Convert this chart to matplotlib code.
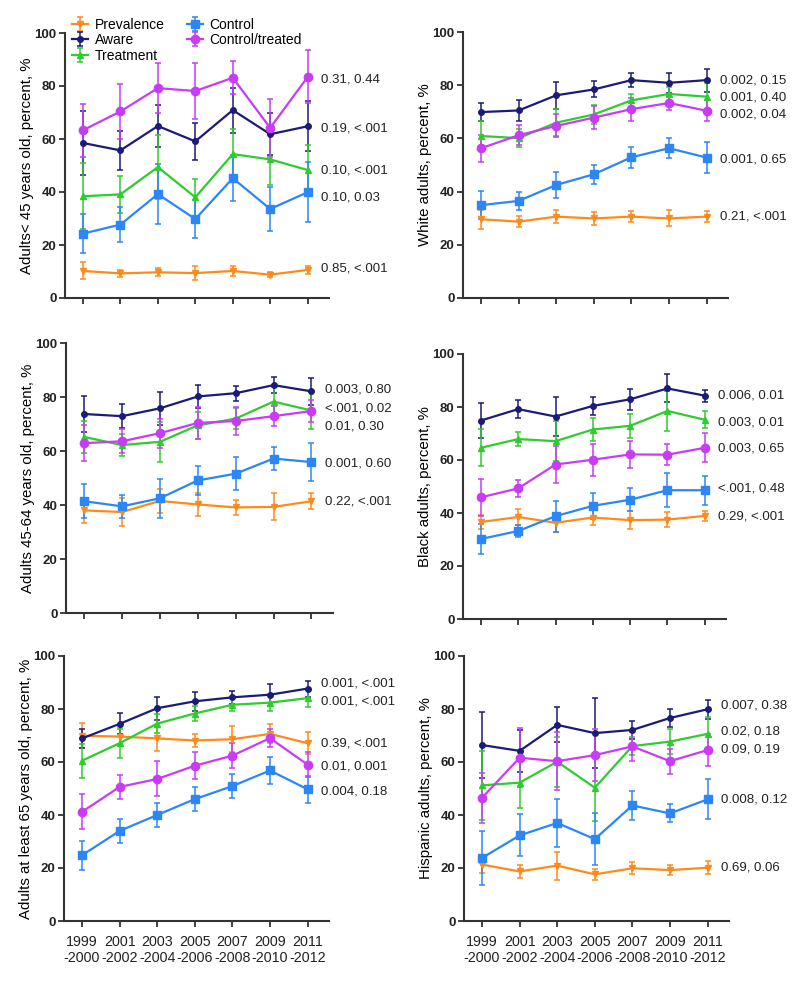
import numpy as np
import matplotlib
matplotlib.use("Agg")
import matplotlib.pyplot as plt

plt.rcParams['font.family'] = ['Liberation Sans', 'DejaVu Sans']

# ── data ───────────────────────────────────────────────────────────
periods = ["1999\n-2000", "2001\n-2002", "2003\n-2004", "2005\n-2006",
           "2007\n-2008", "2009\n-2010", "2011\n-2012"]
series = ["Prevalence", "Aware", "Treatment", "Control", "Control/treated"]

under45 = {
    "Prevalence":      [10.2, 9.3, 9.7, 9.4, 10.2, 8.8, 10.6],
    "Aware":           [58.5, 55.7, 64.9, 59.1, 70.9, 61.8, 64.8],
    "Treatment":       [38.4, 39.1, 49.4, 38.0, 54.3, 52.3, 48.3],
    "Control":         [24.3, 27.7, 39.2, 29.8, 45.2, 33.6, 39.9],
    "Control/treated": [63.3, 70.4, 79.2, 78.1, 83.1, 64.2, 83.4],
}
under45_err = {
    "Prevalence":      [3.2, 1.3, 1.5, 2.6, 1.8, 1.0, 1.6],
    "Aware":           [12.0, 7.5, 8.0, 7.0, 8.5, 8.0, 9.5],
    "Treatment":       [12.5, 7.0, 12.0, 7.0, 9.6, 9.5, 9.5],
    "Control":         [7.5, 6.7, 11.2, 7.0, 8.6, 8.3, 11.4],
    "Control/treated": [10.0, 10.5, 9.5, 10.4, 6.3, 11.0, 10.0],
}
under45_p = ["0.85, <.001", "0.19, <.001", "0.10, <.001", "0.10, 0.03", "0.31, 0.44"]
under45_py = [11.1, 64.0, 48.0, 38.0, 82.3]

white = {
    "Prevalence":      [29.6, 28.7, 30.6, 29.9, 30.6, 29.9, 30.6],
    "Aware":           [69.9, 70.5, 76.2, 78.4, 81.9, 80.9, 81.9],
    "Treatment":       [60.9, 60.1, 65.9, 69.0, 74.3, 76.7, 75.7],
    "Control":         [34.9, 36.5, 42.5, 46.5, 52.9, 56.3, 52.8],
    "Control/treated": [56.3, 61.2, 64.7, 67.8, 71.0, 73.3, 70.4],
}
white_err = {
    "Prevalence":      [3.5, 2.0, 2.5, 2.5, 2.2, 3.0, 2.2],
    "Aware":           [3.5, 4.0, 5.0, 3.0, 2.5, 3.8, 4.3],
    "Treatment":       [5.5, 3.5, 5.0, 3.5, 2.5, 2.5, 5.0],
    "Control":         [5.2, 3.4, 4.9, 3.5, 3.9, 3.7, 5.7],
    "Control/treated": [5.0, 3.8, 4.3, 4.3, 4.3, 2.5, 4.0],
}
white_p = ["0.21, <.001", "0.002, 0.15", "0.001, 0.40", "0.001, 0.65", "0.002, 0.04"]
white_py = [30.5, 81.9, 75.4, 52.0, 69.0]

mid = {
    "Prevalence":      [38.0, 37.4, 41.5, 40.2, 39.1, 39.3, 41.4],
    "Aware":           [73.7, 72.9, 75.8, 80.2, 81.4, 84.4, 82.1],
    "Treatment":       [65.2, 62.2, 63.4, 69.5, 72.0, 78.3, 75.0],
    "Control":         [41.4, 39.5, 42.5, 49.1, 51.6, 57.2, 55.9],
    "Control/treated": [62.9, 63.6, 66.6, 70.4, 71.1, 72.9, 74.8],
}
mid_err = {
    "Prevalence":      [4.6, 5.2, 4.3, 4.3, 2.7, 5.0, 3.0],
    "Aware":           [6.7, 4.5, 6.2, 4.4, 2.8, 3.0, 5.0],
    "Treatment":       [6.0, 4.0, 7.3, 5.0, 4.0, 5.5, 6.8],
    "Control":         [6.2, 4.2, 7.3, 5.3, 6.0, 4.1, 6.9],
    "Control/treated": [6.6, 4.4, 5.4, 6.0, 5.2, 3.7, 4.1],
}
mid_p = ["0.22, <.001", "0.003, 0.80", "<.001, 0.02", "0.001, 0.60", "0.01, 0.30"]
mid_py = [41.4, 82.7, 75.9, 55.3, 69.1]

black = {
    "Prevalence":      [36.6, 38.5, 36.3, 38.3, 37.3, 37.5, 38.9],
    "Aware":           [74.9, 79.2, 76.4, 80.4, 82.9, 87.0, 84.3],
    "Treatment":       [64.6, 67.9, 67.1, 71.5, 72.9, 78.5, 75.2],
    "Control":         [30.2, 33.2, 38.8, 42.7, 45.0, 48.6, 48.6],
    "Control/treated": [45.9, 49.3, 58.3, 60.1, 62.1, 62.0, 64.6],
}
black_err = {
    "Prevalence":      [2.7, 3.1, 3.3, 2.8, 3.3, 2.8, 2.0],
    "Aware":           [6.6, 3.4, 7.2, 3.5, 3.9, 5.3, 2.3],
    "Treatment":       [7.0, 2.6, 7.5, 4.3, 4.6, 7.7, 3.3],
    "Control":         [5.7, 2.3, 5.8, 4.8, 4.4, 6.5, 5.5],
    "Control/treated": [7.1, 3.3, 7.0, 6.1, 5.2, 4.0, 5.5],
}
black_p = ["0.29, <.001", "0.006, 0.01", "0.003, 0.01", "<.001, 0.48", "0.003, 0.65"]
black_py = [38.6, 84.4, 74.0, 49.3, 64.3]

over65 = {
    "Prevalence":      [69.9, 69.6, 68.9, 68.1, 68.6, 70.6, 67.1],
    "Aware":           [68.9, 74.4, 80.3, 82.9, 84.4, 85.4, 87.7],
    "Treatment":       [60.5, 67.1, 74.5, 78.3, 81.6, 82.4, 84.1],
    "Control":         [24.8, 34.0, 40.0, 46.0, 50.9, 56.8, 49.7],
    "Control/treated": [41.2, 50.6, 53.6, 58.6, 62.4, 69.0, 59.0],
}
over65_err = {
    "Prevalence":      [4.7, 3.7, 4.8, 2.5, 4.9, 3.6, 4.2],
    "Aware":           [3.5, 4.0, 4.4, 3.5, 2.5, 4.2, 3.0],
    "Treatment":       [6.4, 5.5, 3.5, 3.0, 2.5, 3.0, 3.4],
    "Control":         [5.4, 4.6, 4.7, 4.5, 4.5, 5.2, 5.0],
    "Control/treated": [6.6, 4.6, 6.6, 5.1, 4.7, 3.5, 4.6],
}
over65_p = ["0.39, <.001", "0.001, <.001", "0.001, <.001", "0.004, 0.18", "0.01, 0.001"]
over65_py = [67.0, 89.6, 82.9, 48.7, 58.2]

hispanic = {
    "Prevalence":      [21.3, 18.7, 20.9, 17.6, 19.9, 19.2, 20.1],
    "Aware":           [66.4, 64.2, 74.0, 70.9, 72.1, 76.6, 79.9],
    "Treatment":       [51.2, 52.2, 60.1, 50.3, 66.0, 67.7, 70.6],
    "Control":         [23.8, 32.3, 37.0, 30.9, 43.6, 40.6, 45.9],
    "Control/treated": [46.5, 61.6, 60.3, 62.6, 65.9, 60.3, 64.5],
}
hispanic_err = {
    "Prevalence":      [3.3, 2.5, 5.3, 2.2, 2.2, 2.0, 2.5],
    "Aware":           [12.3, 8.0, 6.6, 13.2, 3.5, 3.5, 3.6],
    "Treatment":       [13.0, 9.5, 9.5, 12.5, 3.5, 4.6, 6.2],
    "Control":         [10.3, 7.9, 9.0, 9.9, 5.5, 3.4, 7.5],
    "Control/treated": [9.5, 11.2, 11.0, 9.8, 5.5, 4.7, 6.1],
}
hispanic_p = ["0.69, 0.06", "0.007, 0.38", "0.02, 0.18", "0.008, 0.12", "0.09, 0.19"]
hispanic_py = [20.2, 81.4, 71.6, 45.9, 64.7]

# ── styles ─────────────────────────────────────────────────────────
colors = {
    "Prevalence": "#FF8A1C",
    "Aware": "#1B1B78",
    "Treatment": "#2FCB2F",
    "Control": "#2C86F5",
    "Control/treated": "#C83CF5",
}
markers = {
    "Prevalence": ("v", 4.5),
    "Aware": ("o", 4.0),
    "Treatment": ("^", 5.0),
    "Control": ("s", 5.5),
    "Control/treated": ("o", 6.0),
}

W, H = 800, 982
# (left px, right px, top px (y=100), bottom px (y=0))
panels = [
    (under45, under45_err, under45_p, under45_py,
     "Adults< 45 years old, percent, %", (65, 329, 33, 298), False),
    (white, white_err, white_p, white_py,
     "White adults, percent, %", (463, 728, 32, 298), False),
    (mid, mid_err, mid_p, mid_py,
     "Adults 45-64 years old, percent, %", (66, 333, 343, 613), False),
    (black, black_err, black_p, black_py,
     "Black adults, percent, %", (463, 726, 354, 619), False),
    (over65, over65_err, over65_p, over65_py,
     "Adults at least 65 years old, percent, %", (64, 329, 656, 921), True),
    (hispanic, hispanic_err, hispanic_p, hispanic_py,
     "Hispanic adults, percent, %", (464, 729, 656, 921), True),
]

fig = plt.figure(figsize=(W / 100, H / 100), dpi=100)
x = np.arange(len(periods))
axis_col = "#333333"

handles = []
for data, err, ptxt, py, ylab, (l, r, t, b), show_x in panels:
    ax = fig.add_axes([l / W, 1 - b / H, (r - l) / W, (b - t) / H])
    for s in series:
        m, ms = markers[s]
        h = ax.errorbar(x, data[s], yerr=err[s], color=colors[s], lw=1.6,
                        marker=m, ms=ms, capsize=2.5, capthick=1.1,
                        elinewidth=1.1, label=s)
        if len(handles) < len(series):
            handles.append(h)
    for txt, yy in zip(ptxt, py):
        ax.text(6.35, yy, txt, fontsize=9.5, color="#222222",
                ha="left", va="center", clip_on=False)
    ax.set_xlim(-0.48, 6.57)
    ax.set_ylim(0, 100)
    ax.set_yticks([0, 20, 40, 60, 80, 100])
    ax.set_xticks(x)
    if show_x:
        ax.set_xticklabels(periods, fontsize=10.3, linespacing=1.2)
    else:
        ax.set_xticklabels([])
    for lab in ax.get_yticklabels():
        lab.set_fontweight("bold")
        lab.set_fontsize(9.5)
    ax.set_ylabel(ylab, fontsize=10.8)
    ax.yaxis.set_label_coords(-31 / (r - l), 0.5)
    for sp in ("top", "right"):
        ax.spines[sp].set_visible(False)
    for sp in ("left", "bottom"):
        ax.spines[sp].set_linewidth(1.5)
        ax.spines[sp].set_color(axis_col)
    ax.tick_params(direction="out", length=4, width=1.3, color=axis_col,
                   labelcolor="#222222", pad=2)
    ax.tick_params(axis="x", pad=6)

fig.legend(handles=handles, labels=series, ncol=2, frameon=False,
           fontsize=10, handlelength=1.2, handletextpad=0.45,
           columnspacing=1.6, labelspacing=0.1, borderpad=0.2,
           loc="upper left", bbox_to_anchor=(62 / W, 1 - 8 / H))

fig.savefig("out.png", dpi=100)
